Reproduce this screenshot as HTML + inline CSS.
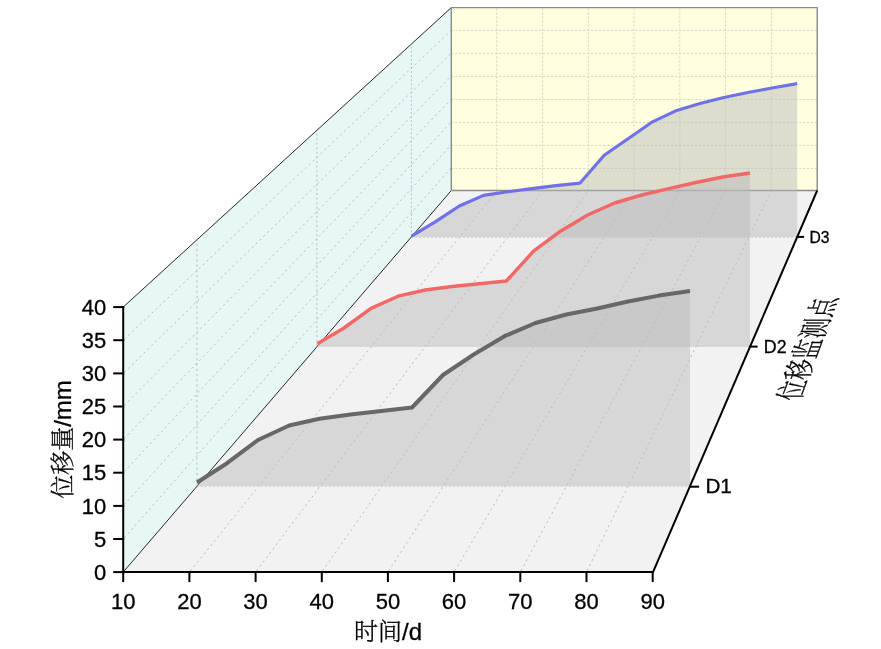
<!DOCTYPE html>
<html lang="zh">
<head>
<meta charset="utf-8">
<title>位移监测点</title>
<style>
html,body{margin:0;padding:0;background:#fff;}
body{width:881px;height:649px;overflow:hidden;}
svg{display:block;}
</style>
</head>
<body>
<svg width="881" height="649" viewBox="0 0 881 649">
<rect width="881" height="649" fill="#fff"/>
<polygon points="123.2,572.1 123.2,307.1 451.3,7.6 451.3,190.5" fill="#e6f7f6"/>
<polygon points="123.2,572.1 652.7,572.1 817.2,190.5 451.3,190.5" fill="#f2f2f2"/>
<rect x="451.3" y="7.6" width="365.9" height="182.9" fill="#ffffdf"/>
<g fill="none" stroke="#b6baba" stroke-width="1">
<line x1="189.4" y1="572.1" x2="497.0" y2="190.5" stroke-dasharray="2.1 3.3" stroke-dashoffset="-1.5"/>
<line x1="255.6" y1="572.1" x2="542.8" y2="190.5" stroke-dasharray="2.1 3.3" stroke-dashoffset="-1.5"/>
<line x1="321.8" y1="572.1" x2="588.5" y2="190.5" stroke-dasharray="2.1 3.3" stroke-dashoffset="-1.5"/>
<line x1="387.9" y1="572.1" x2="634.2" y2="190.5" stroke-dasharray="2.1 3.3" stroke-dashoffset="-1.5"/>
<line x1="454.1" y1="572.1" x2="680.0" y2="190.5" stroke-dasharray="2.1 3.3" stroke-dashoffset="-1.5"/>
<line x1="520.3" y1="572.1" x2="725.7" y2="190.5" stroke-dasharray="2.1 3.3" stroke-dashoffset="-1.5"/>
<line x1="586.5" y1="572.1" x2="771.5" y2="190.5" stroke-dasharray="2.1 3.3" stroke-dashoffset="-1.5"/>
<line x1="123.2" y1="539.0" x2="451.3" y2="167.6" stroke-dasharray="2.1 3.3" stroke-dashoffset="-1.5"/>
<line x1="123.2" y1="505.9" x2="451.3" y2="144.8" stroke-dasharray="2.1 3.3" stroke-dashoffset="-1.5"/>
<line x1="123.2" y1="472.7" x2="451.3" y2="121.9" stroke-dasharray="2.1 3.3" stroke-dashoffset="-1.5"/>
<line x1="123.2" y1="439.6" x2="451.3" y2="99.1" stroke-dasharray="2.1 3.3" stroke-dashoffset="-1.5"/>
<line x1="123.2" y1="406.5" x2="451.3" y2="76.2" stroke-dasharray="2.1 3.3" stroke-dashoffset="-1.5"/>
<line x1="123.2" y1="373.4" x2="451.3" y2="53.3" stroke-dasharray="2.1 3.3" stroke-dashoffset="-1.5"/>
<line x1="123.2" y1="340.2" x2="451.3" y2="30.5" stroke-dasharray="2.1 3.3" stroke-dashoffset="-1.5"/>
<line x1="197.0" y1="486.6" x2="197.0" y2="240.0" stroke-dasharray="2.23 2.98" stroke-dashoffset="-1"/>
<line x1="316.9" y1="347.2" x2="316.9" y2="130.6" stroke-dasharray="1.96 2.62" stroke-dashoffset="-1"/>
<line x1="411.4" y1="237.2" x2="411.4" y2="44.3" stroke-dasharray="1.75 2.33" stroke-dashoffset="-1"/>
</g>
<g fill="none" stroke="#d0d0c6" stroke-width="1">
<line x1="496.8" y1="190.5" x2="496.8" y2="7.6" stroke-dasharray="2 2"/>
<line x1="542.6" y1="190.5" x2="542.6" y2="7.6" stroke-dasharray="2 2"/>
<line x1="588.3" y1="190.5" x2="588.3" y2="7.6" stroke-dasharray="2 2"/>
<line x1="634.0" y1="190.5" x2="634.0" y2="7.6" stroke-dasharray="2 2"/>
<line x1="679.8" y1="190.5" x2="679.8" y2="7.6" stroke-dasharray="2 2"/>
<line x1="725.5" y1="190.5" x2="725.5" y2="7.6" stroke-dasharray="2 2"/>
<line x1="771.3" y1="190.5" x2="771.3" y2="7.6" stroke-dasharray="2 2"/>
<line x1="451.3" y1="168.4" x2="817.2" y2="168.4" stroke-dasharray="2 2"/>
<line x1="451.3" y1="145.4" x2="817.2" y2="145.4" stroke-dasharray="2 2"/>
<line x1="451.3" y1="122.4" x2="817.2" y2="122.4" stroke-dasharray="2 2"/>
<line x1="451.3" y1="99.4" x2="817.2" y2="99.4" stroke-dasharray="2 2"/>
<line x1="451.3" y1="76.4" x2="817.2" y2="76.4" stroke-dasharray="2 2"/>
<line x1="451.3" y1="53.4" x2="817.2" y2="53.4" stroke-dasharray="2 2"/>
<line x1="451.3" y1="30.4" x2="817.2" y2="30.4" stroke-dasharray="2 2"/>
</g>
<g fill="none" stroke="#d2d2d2" stroke-width="1">
<line x1="196.7" y1="486.5" x2="689.6" y2="486.5" stroke-dasharray="2 2"/>
<line x1="411.1" y1="237.5" x2="797.1" y2="237.5" stroke-dasharray="2 2"/>
</g>
<g fill="none" stroke="#262626" stroke-width="1">
<polyline points="123.2,307.1 451.3,7.6"/>
<polyline points="123.2,572.1 451.3,190.5"/>
</g>
<g fill="none" stroke="#8a8a86" stroke-width="1.4">
<polyline points="451.3,190.5 451.3,7.6 817.2,7.6 817.2,190.5 451.3,190.5"/>
</g>
<polygon points="411.6,236.2 435.2,221.9 459.3,206.0 483.5,195.4 507.6,191.8 531.8,188.6 555.9,185.6 580.1,183.1 604.2,155.2 628.4,138.4 652.5,121.8 676.7,110.4 700.8,103.2 725.0,97.2 749.1,92.3 773.3,87.8 797.2,83.6 797.2,237.0 411.6,237.0" fill="rgba(188,188,188,0.5)"/>
<polyline points="411.6,236.2 435.2,221.9 459.3,206.0 483.5,195.4 507.6,191.8 531.8,188.6 555.9,185.6 580.1,183.1 604.2,155.2 628.4,138.4 652.5,121.8 676.7,110.4 700.8,103.2 725.0,97.2 749.1,92.3 773.3,87.8 797.2,83.6" fill="none" stroke="#7070e8" stroke-width="3.1" stroke-linejoin="round"/>
<polygon points="317.3,343.7 344.0,328.0 371.0,308.4 398.1,296.2 425.2,290.0 452.2,286.5 479.3,283.7 506.4,281.0 533.5,251.2 560.5,231.2 587.6,215.0 614.7,203.0 641.7,195.0 668.8,188.7 695.9,182.5 722.9,177.0 750.0,173.0 750.0,347.0 317.3,347.0" fill="rgba(188,188,188,0.5)"/>
<polyline points="317.3,343.7 344.0,328.0 371.0,308.4 398.1,296.2 425.2,290.0 452.2,286.5 479.3,283.7 506.4,281.0 533.5,251.2 560.5,231.2 587.6,215.0 614.7,203.0 641.7,195.0 668.8,188.7 695.9,182.5 722.9,177.0 750.0,173.0" fill="none" stroke="#f06868" stroke-width="3.4" stroke-linejoin="round"/>
<polygon points="197.0,482.5 227.0,463.2 258.0,440.0 289.1,425.5 319.3,418.7 350.5,414.5 381.3,411.0 412.0,407.5 443.0,375.0 473.7,354.5 504.5,336.2 535.5,323.0 566.3,314.5 597.3,308.5 628.0,301.5 659.0,295.6 690.0,291.1 690.0,486.0 197.0,486.0" fill="rgba(188,188,188,0.5)"/>
<polyline points="197.0,482.5 227.0,463.2 258.0,440.0 289.1,425.5 319.3,418.7 350.5,414.5 381.3,411.0 412.0,407.5 443.0,375.0 473.7,354.5 504.5,336.2 535.5,323.0 566.3,314.5 597.3,308.5 628.0,301.5 659.0,295.6 690.0,291.1" fill="none" stroke="#686868" stroke-width="4.0" stroke-linejoin="round"/>
<g fill="#000" fill-opacity="0.12"><circle cx="227.0" cy="463.2" r="1"/><circle cx="258.0" cy="440.0" r="1"/><circle cx="289.1" cy="425.5" r="1"/><circle cx="319.3" cy="418.7" r="1"/><circle cx="350.5" cy="414.5" r="1"/><circle cx="381.3" cy="411.0" r="1"/><circle cx="412.0" cy="407.5" r="1"/><circle cx="443.0" cy="375.0" r="1"/><circle cx="473.7" cy="354.5" r="1"/><circle cx="504.5" cy="336.2" r="1"/><circle cx="535.5" cy="323.0" r="1"/><circle cx="566.3" cy="314.5" r="1"/><circle cx="597.3" cy="308.5" r="1"/><circle cx="628.0" cy="301.5" r="1"/><circle cx="659.0" cy="295.6" r="1"/></g>
<g fill="none" stroke="#000" stroke-width="2" stroke-linecap="square">
<line x1="123.2" y1="572.1" x2="652.7" y2="572.1"/>
<line x1="123.2" y1="572.1" x2="123.2" y2="307.1"/>
<line x1="123.2" y1="572.1" x2="123.2" y2="581.1"/>
<line x1="123.2" y1="572.1" x2="114.2" y2="572.1"/>
<line x1="189.4" y1="572.1" x2="189.4" y2="581.1"/>
<line x1="123.2" y1="539.0" x2="114.2" y2="539.0"/>
<line x1="255.6" y1="572.1" x2="255.6" y2="581.1"/>
<line x1="123.2" y1="505.9" x2="114.2" y2="505.9"/>
<line x1="321.8" y1="572.1" x2="321.8" y2="581.1"/>
<line x1="123.2" y1="472.7" x2="114.2" y2="472.7"/>
<line x1="387.9" y1="572.1" x2="387.9" y2="581.1"/>
<line x1="123.2" y1="439.6" x2="114.2" y2="439.6"/>
<line x1="454.1" y1="572.1" x2="454.1" y2="581.1"/>
<line x1="123.2" y1="406.5" x2="114.2" y2="406.5"/>
<line x1="520.3" y1="572.1" x2="520.3" y2="581.1"/>
<line x1="123.2" y1="373.4" x2="114.2" y2="373.4"/>
<line x1="586.5" y1="572.1" x2="586.5" y2="581.1"/>
<line x1="123.2" y1="340.2" x2="114.2" y2="340.2"/>
<line x1="652.7" y1="572.1" x2="652.7" y2="581.1"/>
<line x1="123.2" y1="307.1" x2="114.2" y2="307.1"/>
</g>
<g fill="none" stroke="#000" stroke-width="2" stroke-linecap="butt">
<line x1="652.7" y1="572.9" x2="817.2" y2="190.5"/>
</g>
<g fill="none" stroke="#000" stroke-width="2">
<line x1="689.6" y1="486.7" x2="699.1" y2="486.7"/>
<line x1="749.6" y1="346.6" x2="757.6" y2="346.6"/>
<line x1="797.1" y1="236.9" x2="804.1" y2="236.9"/>
</g>
<g style="font-family:'Liberation Sans','Noto Serif CJK SC',sans-serif" fill="#000" stroke="#000" stroke-width="0.3">
<text x="123.2" y="609.1" font-size="22" text-anchor="middle">10</text>
<text x="106.2" y="579.8" font-size="22" text-anchor="end">0</text>
<text x="189.4" y="609.1" font-size="22" text-anchor="middle">20</text>
<text x="106.2" y="546.7" font-size="22" text-anchor="end">5</text>
<text x="255.6" y="609.1" font-size="22" text-anchor="middle">30</text>
<text x="106.2" y="513.6" font-size="22" text-anchor="end">10</text>
<text x="321.8" y="609.1" font-size="22" text-anchor="middle">40</text>
<text x="106.2" y="480.4" font-size="22" text-anchor="end">15</text>
<text x="387.9" y="609.1" font-size="22" text-anchor="middle">50</text>
<text x="106.2" y="447.3" font-size="22" text-anchor="end">20</text>
<text x="454.1" y="609.1" font-size="22" text-anchor="middle">60</text>
<text x="106.2" y="414.2" font-size="22" text-anchor="end">25</text>
<text x="520.3" y="609.1" font-size="22" text-anchor="middle">70</text>
<text x="106.2" y="381.1" font-size="22" text-anchor="end">30</text>
<text x="586.5" y="609.1" font-size="22" text-anchor="middle">80</text>
<text x="106.2" y="347.9" font-size="22" text-anchor="end">35</text>
<text x="652.7" y="609.1" font-size="22" text-anchor="middle">90</text>
<text x="106.2" y="314.8" font-size="22" text-anchor="end">40</text>
<text x="705.4" y="493.4" font-size="20.7">D1</text>
<text x="763.8" y="352.9" font-size="17.8">D2</text>
<text x="809.5" y="242.6" font-size="15.7">D3</text>
<text x="388" y="640" font-size="24" font-weight="300" text-anchor="middle">时间/d</text>
<text transform="translate(71,439.5) rotate(-90)" font-size="24" font-weight="300" text-anchor="middle">位移量/mm</text>
<text transform="matrix(0.319 -0.86 1.3 0 818.6 348.9)" font-size="24" font-weight="300" text-anchor="middle">位移监测点</text>
</g>
</svg>
</body>
</html>
